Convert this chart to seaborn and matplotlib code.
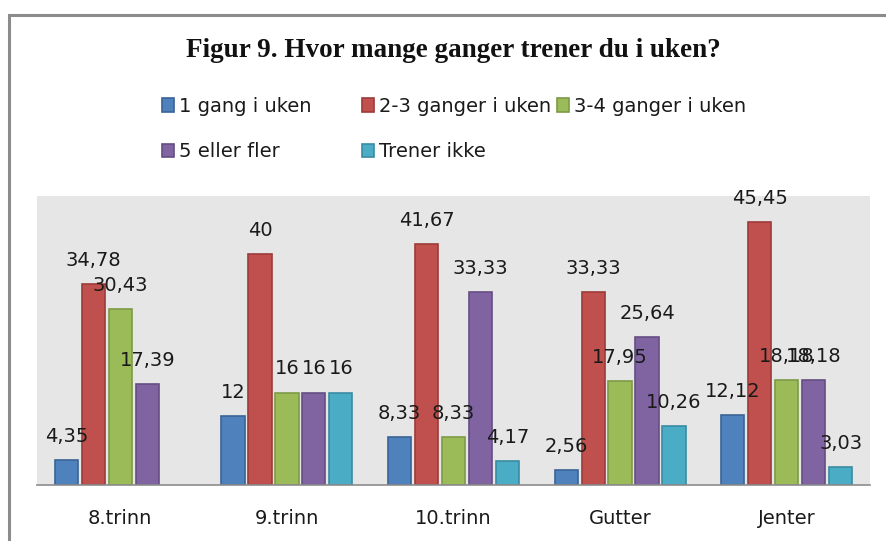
import matplotlib
matplotlib.use("Agg")
import matplotlib.pyplot as plt
from matplotlib.patches import Rectangle
import seaborn as sns
import numpy as np
import pandas as pd

# --- DATA ---
groups = ["8.trinn", "9.trinn", "10.trinn", "Gutter", "Jenter"]
series = ["1 gang i uken", "2-3 ganger i uken", "3-4 ganger i uken",
          "5 eller fler", "Trener ikke"]
gang_1 = [4.35, 12, 8.33, 2.56, 12.12]
ganger_2_3 = [34.78, 40, 41.67, 33.33, 45.45]
ganger_3_4 = [30.43, 16, 8.33, 17.95, 18.18]
fler_5 = [17.39, 16, 33.33, 25.64, 18.18]
trener_ikke = [np.nan, 16, 4.17, 10.26, 3.03]

colors = ["#4F81BD", "#C0504D", "#9BBB59", "#8064A2", "#4BACC6"]
edges = ["#3A6496", "#9C3B39", "#7E9A46", "#654E83", "#3A8CA2"]

rows = []
for name, vals in zip(series, [gang_1, ganger_2_3, ganger_3_4, fler_5, trener_ikke]):
    for g, v in zip(groups, vals):
        rows.append({"Gruppe": g, "Svar": name, "Prosent": v})
df = pd.DataFrame(rows)

sns.set_style("white")
plt.rcParams["font.family"] = ["DejaVu Sans"]

fig = plt.figure(figsize=(8.87, 5.41), dpi=100)
ax = fig.add_axes([37 / 887, 56 / 541, 833 / 887, 289 / 541])

sns.barplot(data=df, x="Gruppe", y="Prosent", hue="Svar", order=groups,
            hue_order=series, palette=colors, saturation=1, width=0.81, gap=0.14,
            ax=ax, legend=False, linewidth=1.2)

ax.set_facecolor("#E6E6E6")
ax.set_ylim(0, 50)
ax.set_xlim(-0.5, 4.5)
ax.set_yticks([])
ax.set_xlabel("")
ax.set_ylabel("")
for s in ["top", "left", "right"]:
    ax.spines[s].set_visible(False)
ax.spines["bottom"].set_color("#8C8C8C")
ax.spines["bottom"].set_linewidth(1.2)
ax.tick_params(axis="x", length=0, pad=17, labelsize=14, labelcolor="#1A1A1A")

# bar edges + data labels
for cont, ec in zip(ax.containers, edges):
    for bar in cont:
        bar.set_edgecolor(ec)
    labels = []
    for bar in cont:
        h = bar.get_height()
        labels.append("" if np.isnan(h) else f"{h:g}".replace(".", ","))
    for bar, lab in zip(cont, labels):
        if lab:
            ax.annotate(lab, (bar.get_x() + bar.get_width() / 2, bar.get_height()),
                        xytext=(0, 17), textcoords="offset points",
                        ha="center", va="center", fontsize=14, color="#1A1A1A",
                        annotation_clip=False)

# legend, laid out in Excel-like fixed columns
handles = [cont.patches[0] for cont in ax.containers]
cols = [([0, 3], 162), ([1, 4], 362), ([2], 557)]
for idx, xpix in cols:
    leg = fig.legend([handles[i] for i in idx], [series[i] for i in idx],
                     loc="upper left", bbox_to_anchor=(xpix / 887, 1 - 97 / 541),
                     frameon=False, fontsize=14, handlelength=0.6, handleheight=0.7,
                     handletextpad=0.25, labelspacing=1.35, borderaxespad=0,
                     borderpad=0)
    for t in leg.get_texts():
        t.set_color("#1A1A1A")

fig.text(453 / 887, 1 - 50 / 541, "Figur 9. Hvor mange ganger trener du i uken?",
         ha="center", va="center", fontsize=19.5, fontweight="bold",
         family=["Liberation Serif"], color="#111111")

# chart outer frame (cropped at right/bottom)
fig.patches.append(Rectangle((9.5 / 887, -0.1), 1.2, 1 - 14.5 / 541 + 0.1,
                             transform=fig.transFigure, fill=False,
                             edgecolor="#8C8C8C", linewidth=2.2, zorder=0))

plt.savefig("out.png", dpi=100)
